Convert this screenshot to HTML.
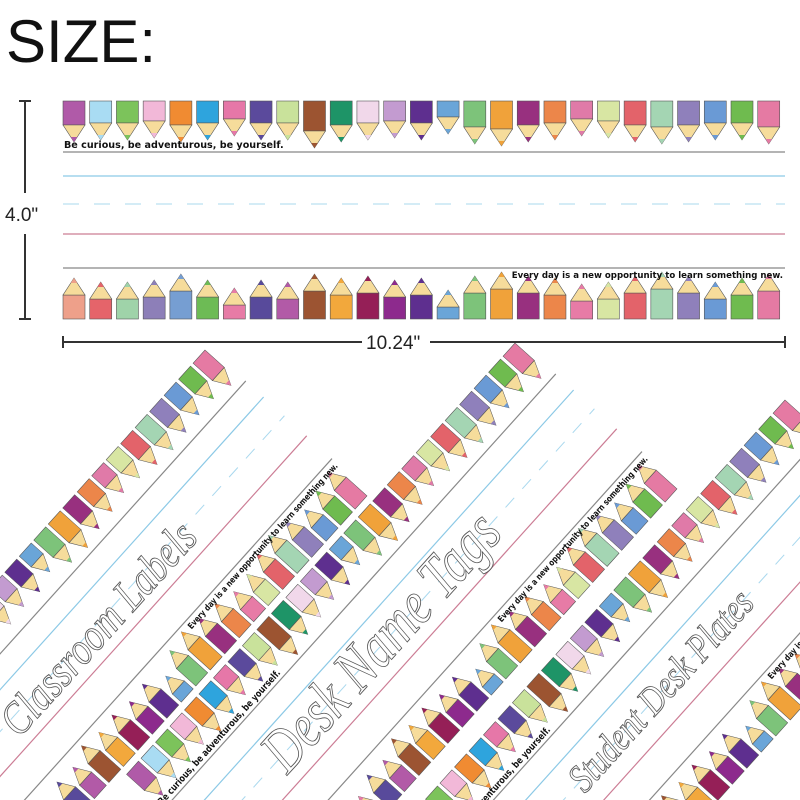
<!DOCTYPE html>
<html><head><meta charset="utf-8"><style>
html,body{margin:0;padding:0;background:#fff;width:800px;height:800px;overflow:hidden}
svg{display:block}
</style></head><body>
<svg id="s" width="800" height="800" viewBox="0 0 800 800" xmlns="http://www.w3.org/2000/svg">
<rect width="800" height="800" fill="#fff"/>
<defs>
<clipPath id="clip"><rect width="800" height="800"/></clipPath>
</defs>
<g id="bottom" clip-path="url(#clip)"></g>
<text x="6" y="62" font-family="Liberation Sans, sans-serif" font-size="60" fill="#111">SIZE:</text>
<g id="top"></g>
<g stroke="#333" stroke-width="2" fill="none">
<line x1="25" y1="101" x2="25" y2="193"/><line x1="25" y1="234" x2="25" y2="319"/>
<line x1="19" y1="101" x2="31" y2="101"/><line x1="19" y1="319" x2="31" y2="319"/>
<line x1="63" y1="342" x2="362" y2="342"/><line x1="430" y1="342" x2="785" y2="342"/>
<line x1="63" y1="336" x2="63" y2="348"/><line x1="785" y1="336" x2="785" y2="348"/>
</g>
<text x="5" y="221" font-family="Liberation Sans, sans-serif" font-size="19" fill="#222">4.0"</text>
<text x="366" y="349" font-family="Liberation Sans, sans-serif" font-size="19" fill="#222">10.24"</text>
</svg>
<script>
const topC=["#b05aa8","#a9dcf3","#7cc35b","#f2b8d8","#f08b32","#2ea4dd","#e677a8","#5b4a9c","#c9e29b","#9c5431","#1e9467","#f1d8ea","#c39bd0","#5e2f8f","#6aa5d8","#7dc37a","#f0a23a","#98307f","#ec864a","#e07aa8","#d8e6a3","#e3636a","#a4d5b3","#8f80bb","#6a9ad5","#6fbb4f","#e57aa3"];
const botC=["#eea08a","#e5646a","#9fd3a9","#8d7fb8","#769ed2","#6dbb55","#e77ba6","#584a9b","#b25aa7","#9c5432","#f2a83c","#951f57","#8d2a8d","#5e2f8f","#6aa5d8","#7dc37a","#f0a23a","#98307f","#ec864a","#e77ba6","#d8e6a3","#e3636a","#a4d5b3","#8f80bb","#6a9ad5","#6fbb4f","#e57aa3"];
const topL=[24,22,22,20,24,22,18,22,22,30,24,22,20,22,16,26,28,24,22,18,20,24,26,24,22,22,26];
const botL=[24,20,20,22,28,22,14,22,20,28,24,26,22,24,12,26,30,26,24,18,20,26,30,26,20,24,28];
function pencil(x,y0,c,len,down){
 let s="";
 const w=22,t=17,k=5;
 if(down){
  s+=`<rect x="${x}" y="${y0}" width="${w}" height="${len}" fill="${c}" stroke="#555" stroke-width="0.6"/>`;
  const b=y0+len;
  s+=`<polygon points="${x},${b} ${x+w},${b} ${x+w/2},${b+t}" fill="#f6dc9b" stroke="#555" stroke-width="0.6"/>`;
  s+=`<polygon points="${x+w/2-k*0.65},${b+t-k} ${x+w/2+k*0.65},${b+t-k} ${x+w/2},${b+t}" fill="${c}"/>`;
 }else{
  s+=`<rect x="${x}" y="${y0-len}" width="${w}" height="${len}" fill="${c}" stroke="#555" stroke-width="0.6"/>`;
  const b=y0-len;
  s+=`<polygon points="${x},${b} ${x+w},${b} ${x+w/2},${b-t}" fill="#f6dc9b" stroke="#555" stroke-width="0.6"/>`;
  s+=`<polygon points="${x+w/2-k*0.65},${b-t+k} ${x+w/2+k*0.65},${b-t+k} ${x+w/2},${b-t}" fill="${c}"/>`;
 }
 return s;
}
function strip(){
 const len=722;
 let s="";
 const step=26.72;
 s+=`<line x1="0" y1="51" x2="${len}" y2="51" stroke="#888" stroke-width="1.2"/>`;
 s+=`<line x1="0" y1="75" x2="${len}" y2="75" stroke="#8cc9e6" stroke-width="1.2"/>`;
 s+=`<line x1="0" y1="103" x2="${len}" y2="103" stroke="#a9d8ee" stroke-width="1" stroke-dasharray="16,15"/>`;
 s+=`<line x1="0" y1="133" x2="${len}" y2="133" stroke="#cc7d95" stroke-width="1.2"/>`;
 s+=`<line x1="0" y1="167" x2="${len}" y2="167" stroke="#888" stroke-width="1.2"/>`;
 for(let i=0;i<27;i++){
  s+=pencil(i*step,0,topC[i],topL[i],true);
  s+=pencil(i*step,218,botC[i],botL[i],false);
 }
 s+=`<text x="1" y="47" font-family="DejaVu Sans, sans-serif" font-weight="bold" font-size="9.6" fill="#111">Be curious, be adventurous, be yourself.</text>`;
 s+=`<text x="720" y="177" font-family="DejaVu Sans, sans-serif" font-weight="bold" font-size="8.6" fill="#111" text-anchor="end">Every day is a new opportunity to learn something new.</text>`;
 return s;
}
const S=strip();
document.getElementById("top").innerHTML=`<g transform="translate(63,101)">${S}</g>`;
const cur='font-family="Liberation Serif, serif" font-style="italic" fill="#fff" stroke="#555" stroke-width="0.9" lengthAdjust="spacingAndGlyphs"';
function rs(cx,cy,title,tx,ty,tw,fs){
 return `<g transform="translate(${cx},${cy}) rotate(-48) scale(0.81,1) translate(-716.7,0)">${S}<text x="${tx}" y="${ty}" font-size="${fs}" textLength="${tw}" ${cur}>${title}</text></g>`;
}
let b="";
b+=rs(205,350,"Classroom Labels",207,122,332,46);
b+=rs(515,343,"Desk Name Tags",132,120,400,62);
b+=rs(785,400,"Student Desk Plates",190,115,315,40);
document.getElementById("bottom").innerHTML=b;
</script>
</body></html>
